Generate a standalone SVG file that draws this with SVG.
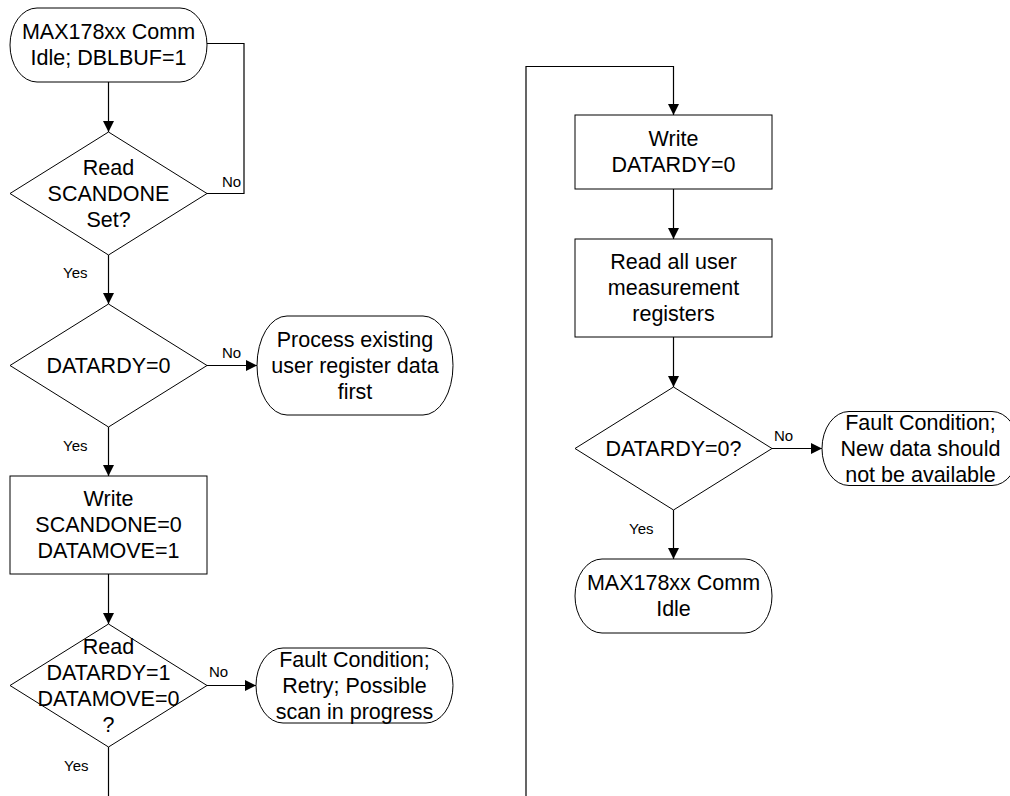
<svg xmlns="http://www.w3.org/2000/svg" width="1010" height="796" viewBox="0 0 1010 796">
<defs>
<style>
.shape{fill:#fff;stroke:#000;stroke-width:1}
.conn{fill:none;stroke:#000;stroke-width:1.2}
.t{font-family:"Liberation Sans",Arial,sans-serif;font-size:21.5px;fill:#000;text-anchor:middle}
.lbl{font-family:"Liberation Sans",Arial,sans-serif;font-size:15px;fill:#000}
</style>
<marker id="arr" markerUnits="userSpaceOnUse" markerWidth="11" markerHeight="11" refX="11" refY="5.5" orient="auto">
<path d="M0,0 L11,5.5 L0,11 z" fill="#000"/>
</marker>
</defs>
<rect width="1010" height="796" fill="#fff"/>
<g id="connectors">
<path class="conn" d="M108.5,82 V132" marker-end="url(#arr)"/>
<path class="conn" d="M207,193.5 H244 V43.5 H207"/>
<path class="conn" d="M108.5,255 V304" marker-end="url(#arr)"/>
<path class="conn" d="M207,365.5 H257" marker-end="url(#arr)"/>
<path class="conn" d="M108.5,427 V476" marker-end="url(#arr)"/>
<path class="conn" d="M108.5,574 V624" marker-end="url(#arr)"/>
<path class="conn" d="M207,685.5 H256" marker-end="url(#arr)"/>
<path class="conn" d="M108.5,747 V796"/>
<path class="conn" d="M526,796 V66.5 H673.5 V115" marker-end="url(#arr)"/>
<path class="conn" d="M673.5,189 V239" marker-end="url(#arr)"/>
<path class="conn" d="M673.5,337 V387" marker-end="url(#arr)"/>
<path class="conn" d="M772,448.5 H822" marker-end="url(#arr)"/>
<path class="conn" d="M673.5,510 V559" marker-end="url(#arr)"/>
<text class="lbl" x="222" y="187">No</text>
<text class="lbl" x="63" y="278">Yes</text>
<text class="lbl" x="222" y="358">No</text>
<text class="lbl" x="63" y="451">Yes</text>
<text class="lbl" x="209" y="677">No</text>
<text class="lbl" x="64" y="771">Yes</text>
<text class="lbl" x="774" y="441">No</text>
<text class="lbl" x="629" y="534">Yes</text>
</g>
<g id="start">
<rect class="shape" x="10" y="8" width="197" height="74" rx="27" ry="37"/>
<text class="t" x="108.5" y="39">MAX178xx Comm</text>
<text class="t" x="108.5" y="65">Idle; DBLBUF=1</text>
</g>
<g id="d_scandone">
<polygon class="shape" points="108.5,132 207,193.5 108.5,255 10,193.5"/>
<text class="t" x="108.5" y="174.5">Read</text>
<text class="t" x="108.5" y="200.5">SCANDONE</text>
<text class="t" x="108.5" y="226.5">Set?</text>
</g>
<g id="d_datardy0">
<polygon class="shape" points="108.5,304 207,365.5 108.5,427 10,365.5"/>
<text class="t" x="108.5" y="372.5">DATARDY=0</text>
</g>
<g id="t_process">
<rect class="shape" x="257" y="316" width="196" height="99" rx="30" ry="49.5"/>
<text class="t" x="355" y="346.5">Process existing</text>
<text class="t" x="355" y="372.5">user register data</text>
<text class="t" x="355" y="398.5">first</text>
</g>
<g id="r_write1">
<rect class="shape" x="10" y="476" width="197" height="98"/>
<text class="t" x="108.5" y="506">Write</text>
<text class="t" x="108.5" y="532">SCANDONE=0</text>
<text class="t" x="108.5" y="558">DATAMOVE=1</text>
</g>
<g id="d_read2">
<polygon class="shape" points="108.5,624 207,685.5 108.5,747 10,685.5"/>
<text class="t" x="108.5" y="653.5">Read</text>
<text class="t" x="108.5" y="679.5">DATARDY=1</text>
<text class="t" x="108.5" y="705.5">DATAMOVE=0</text>
<text class="t" x="108.5" y="731.5">?</text>
</g>
<g id="t_fault1">
<rect class="shape" x="256" y="648" width="197" height="75" rx="27" ry="37.5"/>
<text class="t" x="354.5" y="666.5">Fault Condition;</text>
<text class="t" x="354.5" y="692.5">Retry; Possible</text>
<text class="t" x="354.5" y="718.5">scan in progress</text>
</g>
<g id="r_write2">
<rect class="shape" x="575" y="115" width="197" height="74"/>
<text class="t" x="673.5" y="146">Write</text>
<text class="t" x="673.5" y="172">DATARDY=0</text>
</g>
<g id="r_readall">
<rect class="shape" x="575" y="239" width="197" height="98"/>
<text class="t" x="673.5" y="269">Read all user</text>
<text class="t" x="673.5" y="295">measurement</text>
<text class="t" x="673.5" y="321">registers</text>
</g>
<g id="d_datardy0q">
<polygon class="shape" points="673.5,387 772,448.5 673.5,510 575,448.5"/>
<text class="t" x="673.5" y="455.5">DATARDY=0?</text>
</g>
<g id="t_fault2">
<rect class="shape" x="822" y="411.5" width="197" height="74" rx="27" ry="37"/>
<text class="t" x="920.5" y="429.5">Fault Condition;</text>
<text class="t" x="920.5" y="455.5">New data should</text>
<text class="t" x="920.5" y="481.5">not be available</text>
</g>
<g id="end">
<rect class="shape" x="575" y="559" width="197" height="74" rx="27" ry="37"/>
<text class="t" x="673.5" y="590">MAX178xx Comm</text>
<text class="t" x="673.5" y="616">Idle</text>
</g>
</svg>
